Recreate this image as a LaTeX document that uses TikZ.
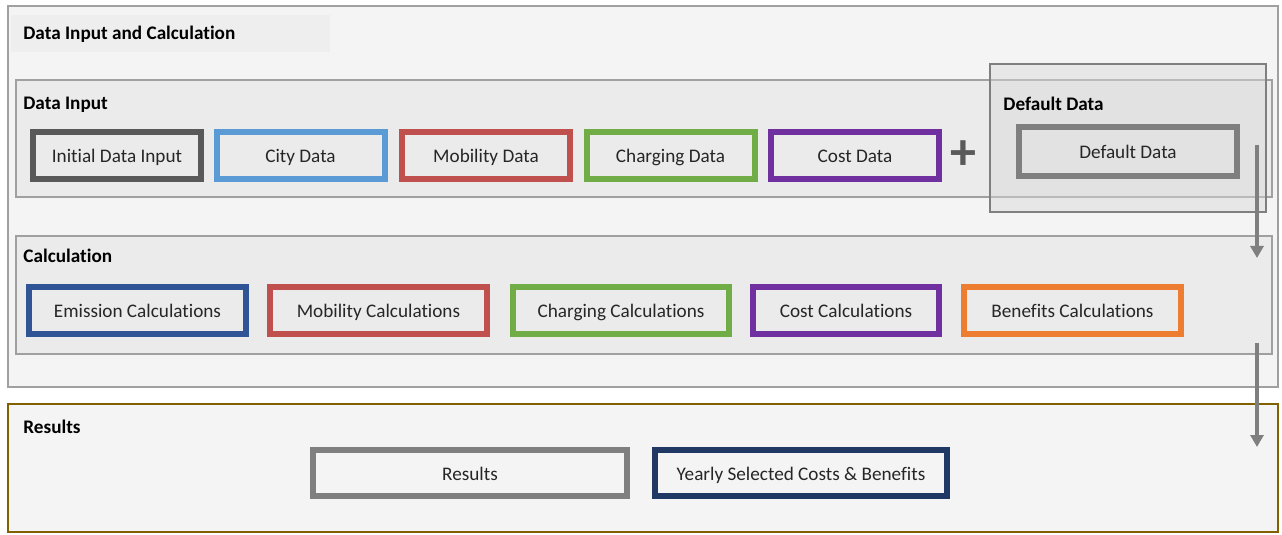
\documentclass[tikz,border=0pt]{standalone}
\usepackage{fontspec}
\setmainfont[Ligatures=NoCommon]{Carlito}
\usetikzlibrary{arrows.meta}

\definecolor{panelline}{HTML}{A0A0A0}
\definecolor{panelfill}{HTML}{F4F4F4}
\definecolor{groupfill}{HTML}{EBEBEB}
\definecolor{bandfill}{HTML}{EEEEEE}
\definecolor{resline}{HTML}{806000}
\definecolor{txt}{HTML}{262626}
\definecolor{cinit}{HTML}{595959}
\definecolor{ccity}{HTML}{5B9BD5}
\definecolor{cmob}{HTML}{C0504D}
\definecolor{ccharge}{HTML}{70AD47}
\definecolor{ccost}{HTML}{7030A0}
\definecolor{cdef}{HTML}{7F7F7F}
\definecolor{cemis}{HTML}{2F5597}
\definecolor{cbenef}{HTML}{ED7D31}
\definecolor{cyear}{HTML}{1F3864}

\begin{document}
\begin{tikzpicture}[x=0.5pt, y=-0.5pt, font={\fontsize{9.6}{11}\selectfont}]
	\tikzstyle{panel} = [ draw=panelline, line width=0.75pt, fill=groupfill ];
	\tikzstyle{head} = [ anchor=west, inner sep=0pt, font={\fontsize{9.6}{11}\selectfont\bfseries} ];
	\tikzstyle{box} = [ draw, rectangle, line width=3pt, text=txt, minimum height=23.5pt, inner sep=0pt, text height=1.75ex, text depth=0.2ex ];
	\tikzstyle{flow} = [ -{Triangle[length=6pt, width=6.5pt]}, line width=1.6pt, color=cdef ];

	\useasboundingbox (0,0) rectangle (1282,535);

	% outer frames
	\draw[panel, fill=panelfill] (8,6) rectangle (1278,387);
	\fill[bandfill] (11,15) rectangle (330,52);
	\draw[panel] (16,80) rectangle (1272,197);
	\draw[panel, draw=cdef, fill=black!15, fill opacity=0.45] (990,64) rectangle (1266,212);
	\draw[panel] (16,236) rectangle (1272,354);
	\draw[panel, draw=resline, fill=panelfill] (8,404) rectangle (1278,532);

	\node[head] (hmain) at (23,34) {Data Input and Calculation};
	\node[head] (hinput) at (23,105) {Data Input};
	\node[head] (hdef) at (1003,104) {Default Data};
	\node[head] (hcalc) at (23,256) {Calculation};
	\node[head] (hres) at (23,427) {Results};

	% data input row
	\def \inputs {init/117/cinit/Initial Data Input, city/300.5/ccity/City Data,
		mob/486/cmob/Mobility Data, charge/670.5/ccharge/Charging Data,
		cost/855/ccost/Cost Data}
	\foreach \n/\x/\c/\t in \inputs {
		\node[box, draw=\c, minimum width=84pt] (\n) at (\x,155.5) {\t};
	}

	\node[text=cinit, inner sep=0pt, font={\fontsize{26}{26}\selectfont\bfseries}] (plus) at (963,155) {+};
	\node[box, draw=cdef, line width=2.6pt, minimum width=109pt, minimum height=24.5pt] (default) at (1128,151.5) {Default Data};

	% calculation row
	\node[box, draw=cemis, minimum width=108.5pt] (emis) at (137.5,310.5) {Emission Calculations};
	\node[box, draw=cmob, minimum width=108.5pt] (mobcalc) at (378.5,310.5) {Mobility Calculations};
	\node[box, draw=ccharge, minimum width=108pt] (chargecalc) at (621,310.5) {Charging Calculations};
	\node[box, draw=ccost, minimum width=93pt] (costcalc) at (846,310.5) {Cost Calculations};
	\node[box, draw=cbenef, minimum width=108.5pt] (benef) at (1072.5,310.5) {Benefits Calculations};

	% results row
	\node[box, draw=cdef, minimum width=157pt, minimum height=23pt] (res) at (470,473) {Results};
	\node[box, draw=cyear, minimum width=146pt, minimum height=23pt] (yearly) at (801,473) {Yearly Selected Costs \& Benefits};

	\coordinate (d1) at (1257,145);
	\coordinate (d2) at (1257,258);
	\coordinate (c1) at (1257,343);
	\coordinate (c2) at (1257,447);
	\draw[flow] (d1) -- (d2);
	\draw[flow] (c1) -- (c2);
\end{tikzpicture}
\end{document}
